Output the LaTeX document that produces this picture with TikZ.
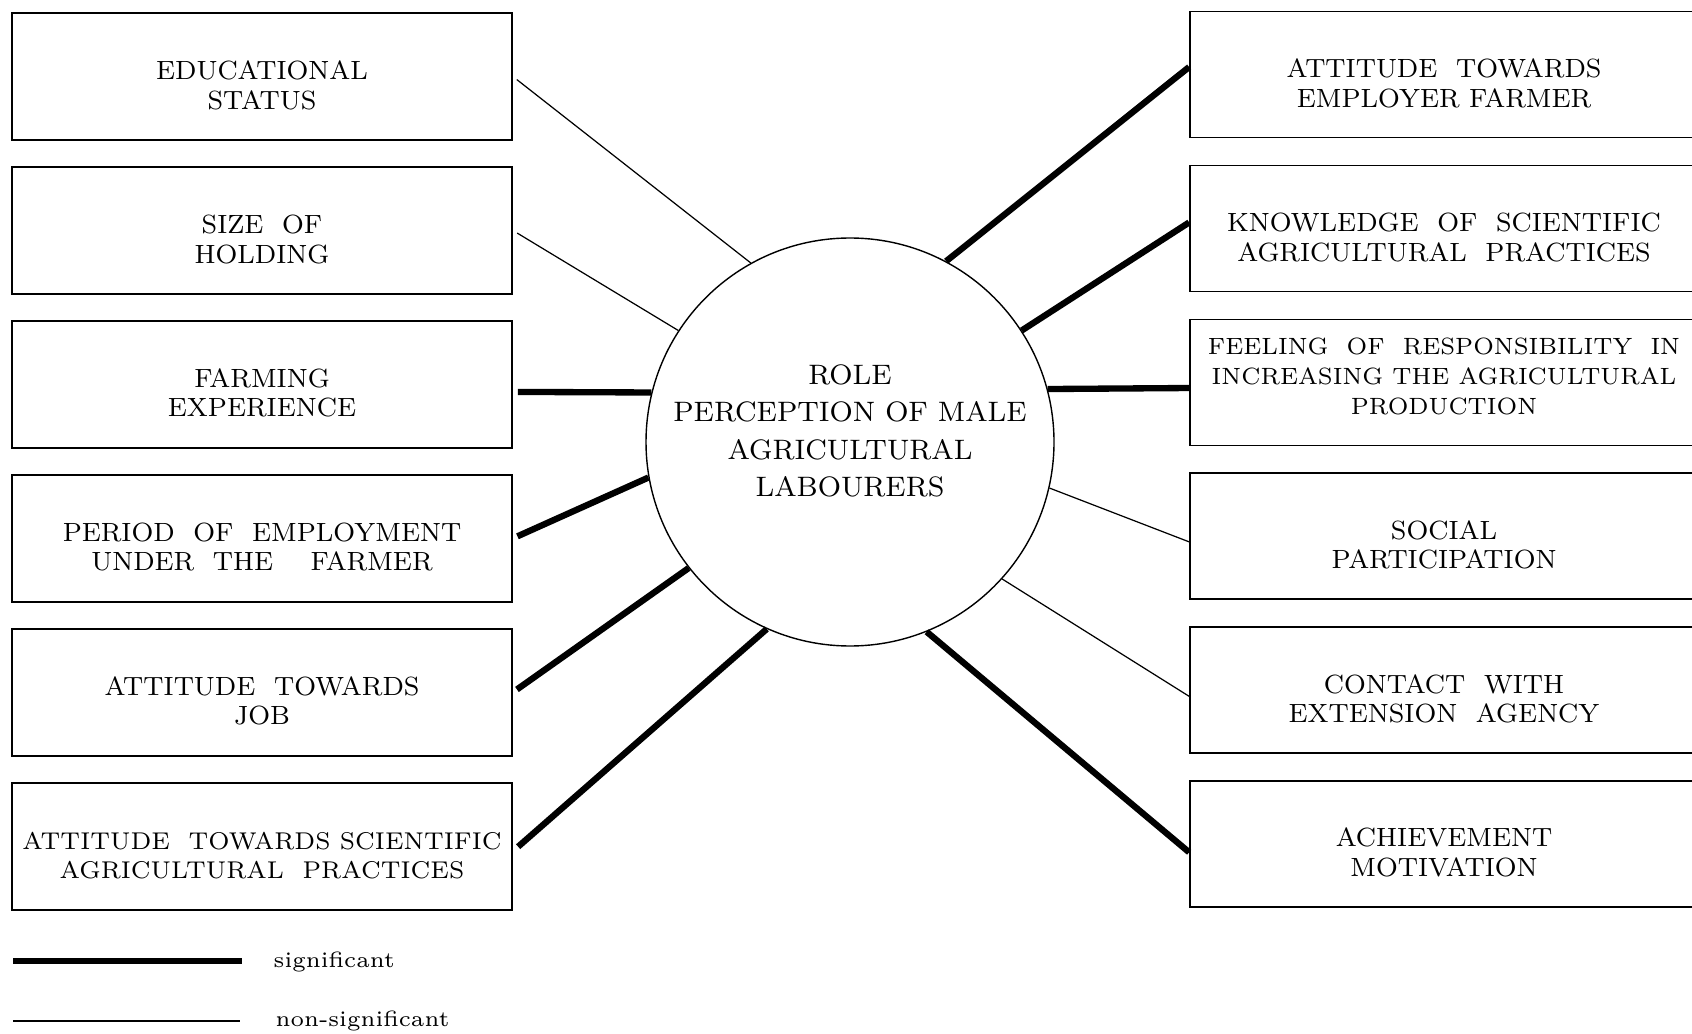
\documentclass[tikz,border=0pt]{standalone}
\usepackage{fontspec}
\usepackage{tikz}
\usetikzlibrary{positioning, calc}
\newcommand{\tstrut}{\rule{0pt}{10.2pt}}
\newcommand{\bstrut}{\rule[-3.4pt]{0pt}{3.4pt}}
\tikzset{
  factor/.style={rectangle, draw=black, line width=0.5pt,
    minimum width=5.0cm, minimum height=1.27cm, align=center,
    font=\fontsize{7.5}{8.5}\selectfont, inner sep=0pt},
  rfactor/.style={factor, minimum width=5.08cm, minimum height=1.26cm},
  rolecirc/.style={circle, draw=black, line width=0.4pt, minimum size=4.08cm},
  roletext/.style={align=center, font=\fontsize{8.0}{10.6}\selectfont, inner sep=0pt},
  legtext/.style={font=\fontsize{6.3}{8}\selectfont, inner sep=0pt},
  sig/.style={line width=1.8pt, color=black},
  nonsig/.style={line width=0.35pt, color=black}
}

\begin{document}
\begin{tikzpicture}
  \useasboundingbox (0,0) rectangle (16.92,-10.34);
  % centre
  \node[rolecirc] (role) at (8.50,-4.42) {};
  \node[roletext] (roletxt) at ([yshift=0.11cm]role.center)
       {ROLE\\PERCEPTION OF MALE\\AGRICULTURAL\\LABOURERS};
  % left column
  \node[factor] (edu) at (2.62,-0.765) {\tstrut EDUCATIONAL\\STATUS};
  \node[factor, below=0.252cm of edu] (hold) {\tstrut SIZE~~OF\\HOLDING};
  \node[factor, below=0.252cm of hold] (farm) {\tstrut FARMING\\EXPERIENCE};
  \node[factor, below=0.252cm of farm] (period) {\tstrut PERIOD~~OF~~EMPLOYMENT\\UNDER~~THE~~~~FARMER};
  \node[factor, below=0.252cm of period] (job) {\tstrut ATTITUDE~~TOWARDS\\JOB};
  \node[factor, below=0.252cm of job, font=\fontsize{6.9}{8.5}\selectfont] (sciatt)
       {\tstrut ATTITUDE~~TOWARDS SCIENTIFIC\\AGRICULTURAL~~PRACTICES};
  % right column
  \node[rfactor] (emp) at (14.44,-0.745) {\tstrut ATTITUDE~~TOWARDS\\EMPLOYER FARMER};
  \node[rfactor, below=0.262cm of emp] (know) {\tstrut KNOWLEDGE~~OF~~SCIENTIFIC\\AGRICULTURAL~~PRACTICES};
  \node[rfactor, below=0.262cm of know, font=\fontsize{6.7}{8.5}\selectfont] (feel)
       {FEELING~~OF~~RESPONSIBILITY~~IN\\INCREASING THE AGRICULTURAL\\PRODUCTION\bstrut};
  \node[rfactor, below=0.262cm of feel] (social) {\tstrut SOCIAL\\PARTICIPATION};
  \node[rfactor, below=0.262cm of social] (contact) {\tstrut CONTACT~~WITH\\EXTENSION~~AGENCY};
  \node[rfactor, below=0.262cm of contact] (achieve) {\tstrut ACHIEVEMENT\\MOTIVATION};
  % links, left
  \draw[nonsig, shorten <=0.05cm] (edu.east) -- (role.119);
  \draw[nonsig, shorten <=0.05cm] (hold.east) -- (role.147);
  \draw[sig, shorten <=0.05cm] ([yshift=-0.075cm]farm.east) -- (role.166);
  \draw[sig, shorten <=0.05cm] (period.east) -- (role.190);
  \draw[sig, shorten <=0.05cm] (job.east) -- (role.218);
  \draw[sig, shorten <=0.07cm] ([yshift=-0.05cm]sciatt.east) -- (role.246);
  % links, right
  \draw[sig] (role.62) -- ([yshift=0.075cm]emp.west);
  \draw[sig] (role.33.4) -- ([yshift=0.06cm]know.west);
  \draw[sig] (role.15.6) -- ([yshift=-0.056cm]feel.west);
  \draw[nonsig] (role.-13) -- ([yshift=-0.055cm]social.west);
  \draw[nonsig] (role.-42) -- ([yshift=-0.06cm]contact.west);
  \draw[sig] (role.-68) -- ([yshift=-0.08cm]achieve.west);
  % legend
  \coordinate (sigA) at (0.13,-9.61);
  \coordinate (nsA) at (0.13,-10.21);
  \node[legtext, anchor=base west] (sigtxt) at (2.73,-9.67) {significant};
  \node[legtext, anchor=base west] (nstxt) at (2.75,-10.26) {non-significant};
  \draw[sig] (sigA) -- ++(2.29,0);
  \draw[nonsig] (nsA) -- ++(2.27,0);
\end{tikzpicture}
\end{document}
